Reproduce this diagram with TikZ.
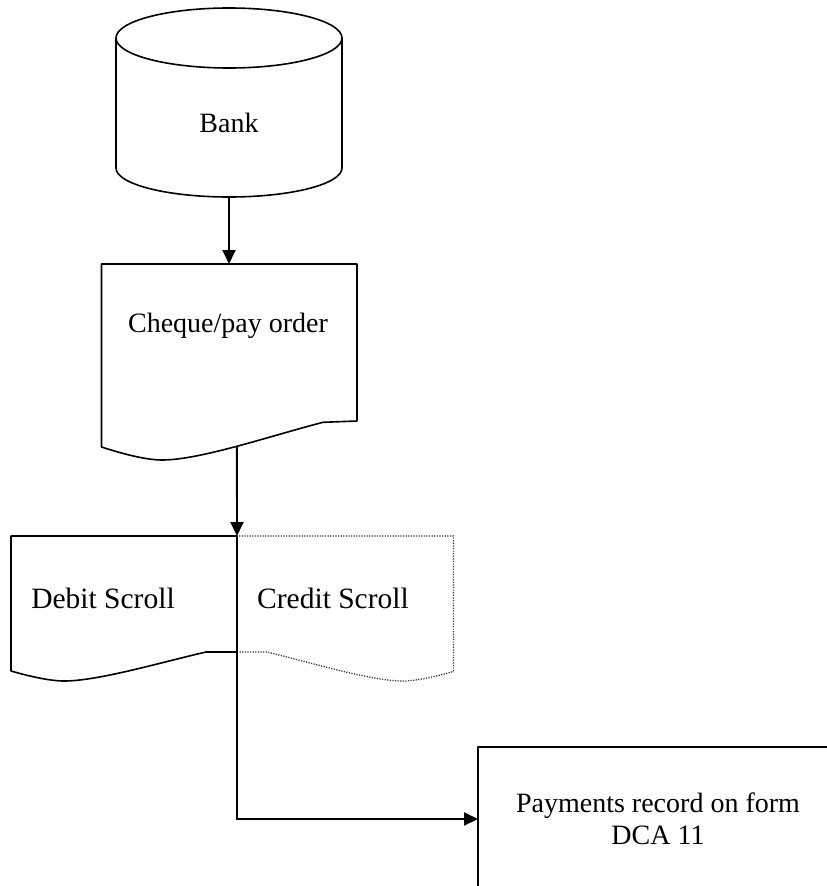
\documentclass[tikz,border=0pt]{standalone}
\usepackage{fontspec}
\setmainfont{Liberation Serif}
\usetikzlibrary{arrows.meta,calc}
\begin{document}
\begin{tikzpicture}[x=1pt,y=-1pt,
  shapebox/.style={draw=none, inner sep=0pt, outer sep=0pt, rectangle},
  outline/.style={line width=1.6pt, line join=round},
  dottedline/.style={line width=1.3pt, dash pattern=on 1.2pt off 1.4pt, black!80},
  flow/.style={line width=1.9pt, -{Triangle[length=14pt,width=13pt]}},
  caption/.style={font=\fontsize{28}{32}\selectfont, inner sep=0pt, anchor=base},
  bigcaption/.style={caption, font=\fontsize{29.5}{34}\selectfont},
]
\useasboundingbox (0,0) rectangle (827,886);
\fill[white] (0,0) rectangle (827,886);
\clip (0,0) rectangle (827,886);

% frames of the shapes (used as anchors for the connectors)
\node[shapebox, minimum width=226pt, minimum height=189pt] (bank) at (229,102.5) {};
\node[shapebox, minimum width=255pt, minimum height=196pt] (cheque) at (229,362) {};
\node[shapebox, minimum width=226pt, minimum height=135pt] (debit) at (124,603.5) {};
\node[shapebox, minimum width=217pt, minimum height=135pt] (credit) at (345.5,603.5) {};
\node[shapebox, draw, outline, minimum width=360pt, minimum height=144pt,
      align=center, font=\fontsize{28}{32}\selectfont] (payments) at (658,819)
      {Payments record on form\\DCA 11};

% Bank: cylinder
\draw[outline] (229,38) ellipse [x radius=113, y radius=30];
\draw[outline] (116,38) -- (116,168)
  .. controls (116,184) and (166.6,197) .. (229,197)
  .. controls (291.4,197) and (342,184) .. (342,168) -- (342,38);

% Cheque/pay order: document
\draw[outline] (357,421) -- (357,264) -- (101.5,264) -- (101.5,447)
  .. controls (120,453) and (145,460) .. (162,460)
  .. controls (200,460) and (270,436) .. (323,422.3) coordinate[pos=0.5] (cheque-out)
  -- cycle;

% Debit Scroll: document
\draw[outline] (237,652) -- (237,536) -- (11,536) -- (11,671)
  .. controls (27,675.6) and (49,681) .. (64,681)
  .. controls (98,681) and (160,662.6) .. (206,652) -- cycle;

% Credit Scroll: dotted document, mirrored
\draw[dottedline] (237,652) -- (267,652)
  .. controls (311,662.6) and (371,681) .. (403,681)
  .. controls (417,681) and (439,675.6) .. (453.5,671.5)
  -- (453.5,536) -- (237,536);

% labels
\node[caption] (bank-label) at (229,132) {Bank};
\node[caption] (cheque-label) at (228,332) {Cheque/pay order};
\node[bigcaption] (debit-label) at (103,608) {Debit Scroll};
\node[bigcaption] (credit-label) at (333,608) {Credit Scroll};

% connectors
\draw[flow] (bank.south) -- (bank.south |- cheque.north);
\draw[flow] (cheque-out) -- (debit.north east);
\draw[flow] (debit.east) |- (payments.west);
\end{tikzpicture}
\end{document}
